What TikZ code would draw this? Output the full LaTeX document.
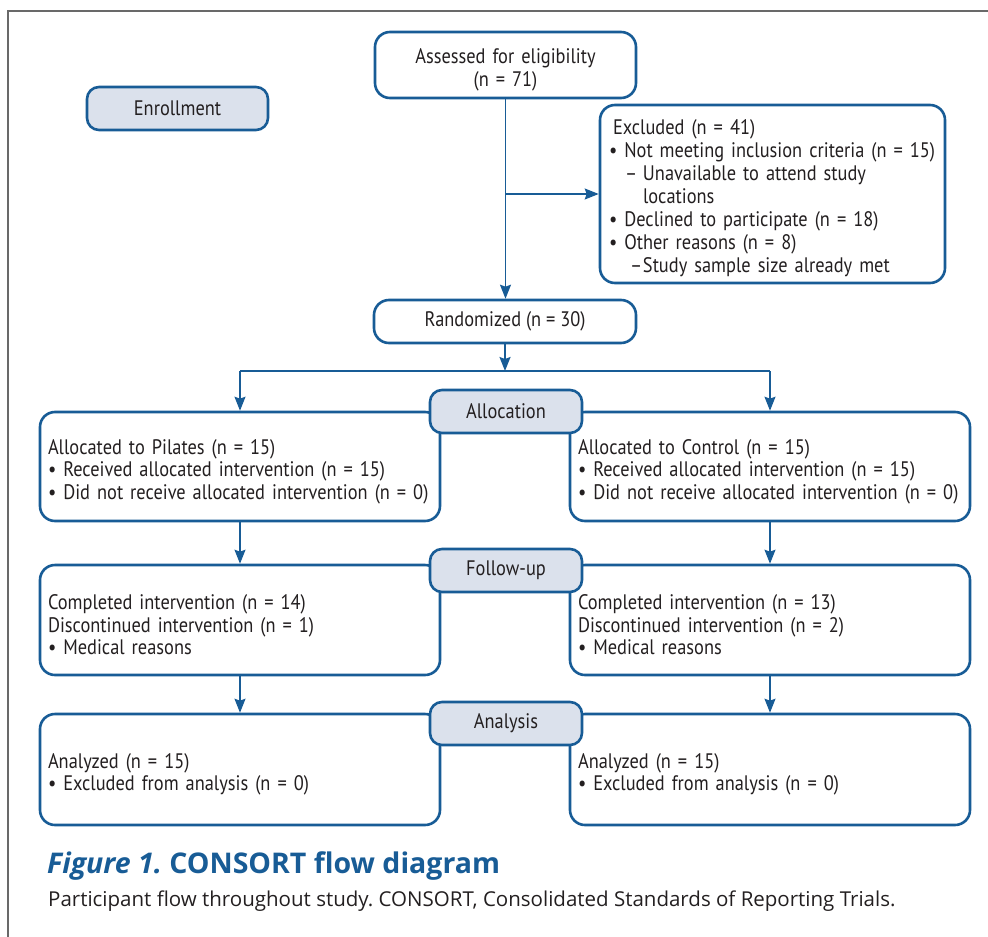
\documentclass[tikz,border=0pt]{standalone}
\usepackage{fontspec}
\setmainfont{PT Sans}
\newfontfamily\boxfont[FakeStretch=0.875]{PT Sans}
\newfontfamily\capfont{Open Sans}
\usetikzlibrary{arrows.meta}
\definecolor{cblue}{RGB}{24,92,150}
\definecolor{lfill}{RGB}{219,225,236}
\definecolor{txt}{RGB}{35,31,32}
\definecolor{framec}{RGB}{105,105,105}
\frenchspacing
\tikzset{
  box/.style={draw=cblue, line width=2.6pt, rounded corners=15pt, fill=white,
    inner xsep=8pt, inner ysep=0pt, text=txt,
    font=\boxfont\fontsize{21}{22.5}\selectfont},
  lower/.style={execute at begin node={\rule{0pt}{#1}}},
  wbox/.style={box, minimum width=400pt, text width=384pt, align=left, lower=25pt},
  lab/.style={draw=cblue, line width=2.6pt, rounded corners=12pt, fill=lfill,
    minimum width=152pt, minimum height=43pt, inner sep=0pt, text=txt,
    font=\boxfont\fontsize{21}{22.5}\selectfont},
  conn/.style={draw=cblue, line width=1.7pt},
  arr/.style={conn, -{Stealth[length=14pt,width=11pt,inset=2pt]}}
}
\begin{document}
\begin{tikzpicture}[x=1pt,y=-1pt]
\useasboundingbox (0,0) rectangle (988,937);
% frame
\draw[framec, line width=1.5pt] (8,937) -- (8,11) -- (988,11);

% top part
\node[lab, minimum width=181pt] (enroll) at (177.5,108.5) {Enrollment};
\node[box, minimum width=261pt, minimum height=66pt, text width=245pt, align=center, lower=25pt] (assess) at (505.5,65)
  {Assessed for eligibility\\(n = 71)};
\node[box, minimum width=345pt, minimum height=178pt, inner xsep=9pt, text width=327pt,
  align=left, lower=23pt, font=\boxfont\fontsize{21}{23}\selectfont] (excl) at (772.5,194)
  {\hspace*{4pt}Excluded (n = 41)\\
   \textbullet\ Not meeting inclusion criteria (n = 15)\\
   \hspace*{16pt}\makebox[18pt][l]{–}Unavailable to attend study\\
   \hspace*{34pt}locations\\
   \textbullet\ Declined to participate (n = 18)\\
   \textbullet\ Other reasons (n = 8)\\
   \hspace*{21pt}\makebox[13pt][l]{–}Study sample size already met};
\node[box, minimum width=262pt, minimum height=43pt] (rand) at (505,321.5) {Randomized (n = 30)};

% rows
\node[wbox, minimum height=109pt] (pil) at (240,466.5)
  {Allocated to Pilates (n = 15)\\
   \textbullet\ Received allocated intervention (n = 15)\\
   \textbullet\ Did not receive allocated intervention (n = 0)};
\node[wbox, minimum height=109pt] (con) at (770,466.5)
  {Allocated to Control (n = 15)\\
   \textbullet\ Received allocated intervention (n = 15)\\
   \textbullet\ Did not receive allocated intervention (n = 0)};
\node[wbox, minimum height=110pt] (pilf) at (240,620)
  {Completed intervention (n = 14)\\
   Discontinued intervention (n = 1)\\
   \textbullet\ Medical reasons};
\node[wbox, minimum height=110pt] (conf) at (770,620)
  {Completed intervention (n = 13)\\
   Discontinued intervention (n = 2)\\
   \textbullet\ Medical reasons};
\node[wbox, minimum height=111pt] (pila) at (240,769.5)
  {Analyzed (n = 15)\\
   \textbullet\ Excluded from analysis (n = 0)};
\node[wbox, minimum height=111pt] (cona) at (770,769.5)
  {Analyzed (n = 15)\\
   \textbullet\ Excluded from analysis (n = 0)};

% stage labels
\node[lab] (alloc) at (506,411.5) {Allocation};
\node[lab] (follow) at (506,570.5) {Follow-up};
\node[lab] (analysis) at (506,723.5) {Analysis};

% connectors
\coordinate (branch) at (505.5,194);
\coordinate (split) at (505,371);
\draw[arr] (assess.south) -- (assess.south |- rand.north);
\draw[arr] (branch) -- (excl.west);
\draw[arr] (rand.south) -- (split);
\draw[conn] (pil.north |- split) -- (con.north |- split);
\draw[arr] (pil.north |- split) -- (pil.north);
\draw[arr] (con.north |- split) -- (con.north);
\draw[arr] (pil.south) -- (pilf.north);
\draw[arr] (con.south) -- (conf.north);
\draw[arr] (pilf.south) -- (pila.north);
\draw[arr] (conf.south) -- (cona.north);

% caption
\node[anchor=base west, inner sep=0pt, text=cblue, font=\capfont\fontsize{28.5}{30}\selectfont\bfseries] (cap) at (47,873)
  {\textit{Figure 1.} CONSORT flow diagram};
\node[anchor=base west, inner sep=0pt, text=txt, font=\capfont\fontsize{20.5}{22}\selectfont] (capsub) at (48,906)
  {Participant flow throughout study. CONSORT, Consolidated Standards of Reporting Trials.};
\end{tikzpicture}
\end{document}
